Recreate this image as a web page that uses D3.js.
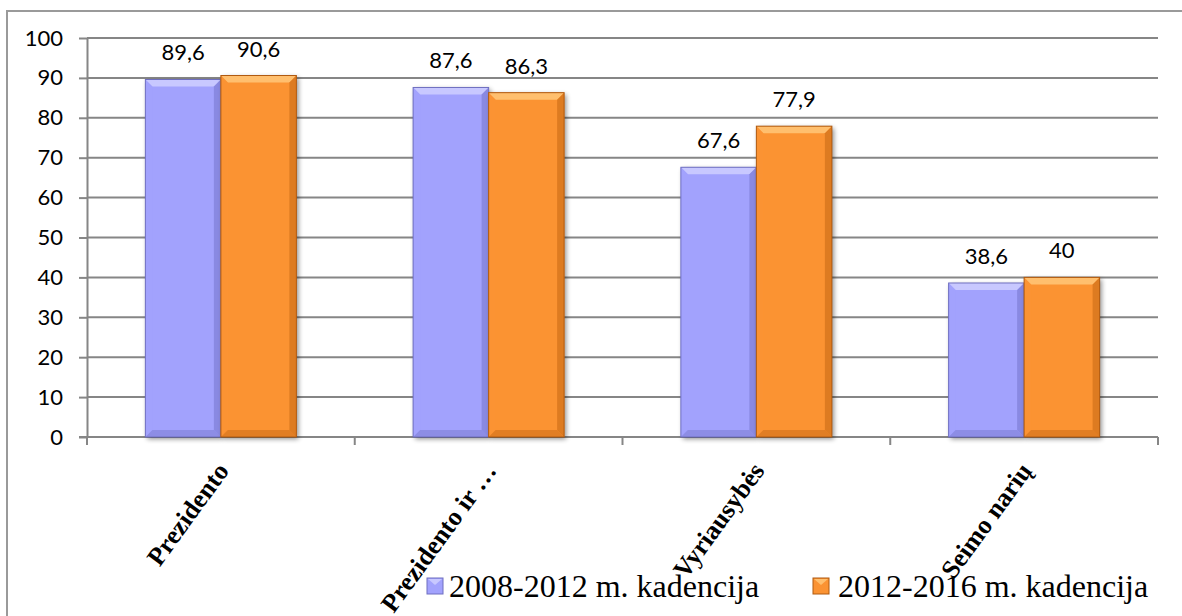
<!DOCTYPE html>
<html>
<head>
<style>
  body { margin: 0; background: #fff; }
  .axis text { font-family: Lato, "Liberation Sans", Arial, sans-serif; font-size: 22px; fill: #000; }
  .axis path, .axis line { stroke: #868686; stroke-width: 2px; }
  .grid line { stroke: #868686; stroke-width: 2px; }
  .vlabel { font-family: Lato, "Liberation Sans", Arial, sans-serif; font-size: 22px; text-anchor: middle; }
  .xlabel { font-family: "Liberation Serif", "Times New Roman", serif; font-size: 26px; font-weight: bold; text-anchor: end; }
  .legend text { font-family: "Liberation Serif", "Times New Roman", serif; font-size: 32px; }
</style>
</head>
<body>
<script src="https://d3js.org/d3.v7.min.js"></script>
<script>
var categories = ["Prezidento", "Prezidento ir \u2026", "Vyriausyb\u0117s", "Seimo nari\u0173"];
var seriesNames = ["2008-2012 m. kadencija", "2012-2016 m. kadencija"];
var values2008 = [89.6, 87.6, 67.6, 38.6];
var values2012 = [90.6, 86.3, 77.9, 40];
var yTicks = [0, 10, 20, 30, 40, 50, 60, 70, 80, 90, 100];

var colors = [
  {fill: "#a2a2fd", light: "#c8c8ff", dark: "#7f7fd6", edge: "#6f6fc0"},
  {fill: "#fb9333", light: "#ffbf6e", dark: "#d0701a", edge: "#b05a10"}
];

var W = 1182, H = 616;
var margin = {top: 38, left: 87, right: 24, bottom: 179};
var width = W - margin.left - margin.right, height = H - margin.top - margin.bottom;

var svg = d3.select("body").append("svg").attr("width", W).attr("height", H);

var defs = svg.append("defs");
var f = defs.append("filter").attr("id", "shadow").attr("x", "-20%").attr("y", "-20%").attr("width", "140%").attr("height", "140%");
f.append("feGaussianBlur").attr("in", "SourceAlpha").attr("stdDeviation", 2.5);
f.append("feOffset").attr("dx", 2).attr("dy", 2).attr("result", "b");
f.append("feComponentTransfer").append("feFuncA").attr("type", "linear").attr("slope", 0.45);
var m = f.append("feMerge");
m.append("feMergeNode");
m.append("feMergeNode").attr("in", "SourceGraphic");

// outer chart border
svg.append("rect")
    .attr("x", 7).attr("y", 11).attr("width", W).attr("height", H)
    .attr("fill", "none").attr("stroke", "#9a9a9a").attr("stroke-width", 2);

var g = svg.append("g").attr("transform", "translate(" + margin.left + "," + margin.top + ")");

var x0 = d3.scaleBand().domain(categories).range([0, width]);
var bw = x0.bandwidth();
var gap = bw * 0.218;
var x1 = d3.scaleBand().domain([0, 1]).range([gap, bw - gap]);
var y = d3.scaleLinear().domain([0, 100]).range([height, 0]);

g.append("g").attr("class", "grid")
  .selectAll("line").data(yTicks.filter(function(d){ return d > 0; }))
  .enter().append("line")
    .attr("x1", 0).attr("x2", width)
    .attr("y1", function(d){ return y(d); }).attr("y2", function(d){ return y(d); });

var yAxis = g.append("g").attr("class", "axis")
    .call(d3.axisLeft(y).tickValues(yTicks).tickSize(8).tickPadding(16).tickSizeOuter(0));

var xAxis = g.append("g").attr("class", "axis").attr("transform", "translate(0," + height + ")");
xAxis.append("line").attr("x1", -8).attr("x2", width);
xAxis.selectAll(".tk").data(categories.map(function(d){ return x0(d); }).concat([width]))
  .enter().append("line").attr("class", "tk")
    .attr("x1", function(d){ return d; }).attr("x2", function(d){ return d; })
    .attr("y1", 0).attr("y2", 8);

var data = [];
categories.forEach(function(c, i){
  data.push({cat: c, s: 0, v: values2008[i]});
  data.push({cat: c, s: 1, v: values2012[i]});
});

var bev = 7;
var bars = g.selectAll(".bar").data(data).enter().append("g").attr("class", "bar")
    .attr("transform", function(d){ return "translate(" + (x0(d.cat) + x1(d.s)) + "," + y(d.v) + ")"; });
var bwid = x1.bandwidth();

bars.append("rect")
    .attr("width", bwid).attr("height", function(d){ return height - y(d.v); })
    .attr("fill", function(d){ return colors[d.s].fill; })
    .attr("filter", "url(#shadow)");
// bevel faces
bars.append("polygon")
    .attr("points", function(d){ return [[0,0],[bwid,0],[bwid-bev,bev],[bev,bev]].join(" "); })
    .attr("fill", function(d){ return colors[d.s].light; });
bars.append("polygon")
    .attr("points", function(d){ var h = height - y(d.v); return [[0,0],[bev,bev],[bev,h-bev],[0,h]].join(" "); })
    .attr("fill", function(d){ return colors[d.s].fill; }).attr("opacity", 0.6);
bars.append("polygon")
    .attr("points", function(d){ var h = height - y(d.v); return [[bwid,0],[bwid,h],[bwid-bev,h-bev],[bwid-bev,bev]].join(" "); })
    .attr("fill", function(d){ return colors[d.s].dark; }).attr("opacity", 0.7);
bars.append("polygon")
    .attr("points", function(d){ var h = height - y(d.v); return [[0,h],[bev,h-bev],[bwid-bev,h-bev],[bwid,h]].join(" "); })
    .attr("fill", function(d){ return colors[d.s].dark; }).attr("opacity", 0.6);
bars.append("rect")
    .attr("width", bwid).attr("height", function(d){ return height - y(d.v); })
    .attr("fill", "none").attr("stroke", function(d){ return colors[d.s].edge; }).attr("stroke-width", 1);

g.selectAll(".vlabel").data(data).enter().append("text").attr("class", "vlabel")
    .attr("x", function(d){ return x0(d.cat) + x1(d.s) + bwid / 2; })
    .attr("y", function(d){ return y(d.v) - 19; })
    .text(function(d){ return String(d.v).replace(".", ","); });

g.selectAll(".xlabel").data(categories).enter().append("text").attr("class", "xlabel")
    .attr("transform", function(d){ return "translate(" + (x0(d) + bw / 2 + 9) + "," + (height + 34) + ") rotate(-54)"; })
    .text(function(d){ return d; });

// legend
var legend = svg.append("g").attr("class", "legend");
var legX = [427, 813];
seriesNames.forEach(function(name, i){
  var lg = legend.append("g").attr("transform", "translate(" + legX[i] + ",578)");
  lg.append("rect").attr("width", 16).attr("height", 16).attr("fill", colors[i].fill)
    .attr("stroke", colors[i].edge).attr("stroke-width", 1);
  lg.append("polygon").attr("points", "1,1 15,1 8,7").attr("fill", colors[i].light);
  lg.append("text").attr("x", 22 + i * 3).attr("y", 19).text(name);
});
</script>
</body>
</html>
